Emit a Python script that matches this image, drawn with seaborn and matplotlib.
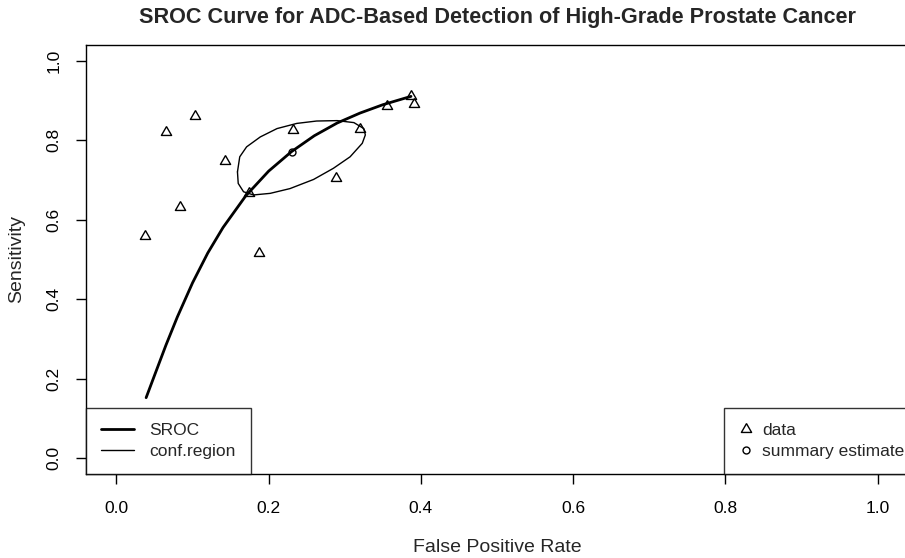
import matplotlib
matplotlib.use("Agg")
import matplotlib.pyplot as plt
import seaborn as sns
from matplotlib.lines import Line2D

# study-level estimates (false positive rate, sensitivity)
data_fpr = [0.103, 0.065, 0.143, 0.084, 0.038, 0.187, 0.174, 0.232, 0.288,
            0.320, 0.355, 0.387, 0.391]
data_sens = [0.860, 0.820, 0.748, 0.632, 0.558, 0.515, 0.668, 0.825, 0.705,
             0.828, 0.886, 0.911, 0.891]

summary_fpr = [0.231]
summary_sens = [0.771]

# SROC curve
sroc_fpr = [0.039, 0.050, 0.065, 0.080, 0.100, 0.120, 0.140, 0.170, 0.200,
            0.230, 0.260, 0.290, 0.320, 0.350, 0.387]
sroc_sens = [0.152, 0.208, 0.284, 0.355, 0.441, 0.516, 0.580, 0.660, 0.722,
             0.771, 0.811, 0.843, 0.868, 0.889, 0.910]

# confidence region outline
region_fpr = [0.159, 0.162, 0.171, 0.189, 0.211, 0.237, 0.263, 0.290, 0.312,
              0.325, 0.327, 0.323, 0.307, 0.285, 0.259, 0.228, 0.202, 0.180,
              0.167, 0.160, 0.159]
region_sens = [0.720, 0.758, 0.783, 0.808, 0.829, 0.842, 0.848, 0.849, 0.844,
               0.829, 0.813, 0.792, 0.758, 0.729, 0.701, 0.678, 0.666, 0.662,
               0.670, 0.691, 0.720]

ticks = [0.0, 0.2, 0.4, 0.6, 0.8, 1.0]
tick_labels = ["0.0", "0.2", "0.4", "0.6", "0.8", "1.0"]

sns.set_style("white")
plt.rcParams['font.family'] = ['Liberation Sans', 'DejaVu Sans']

W, H = 905, 558
fig = plt.figure(figsize=(W / 100, H / 100), dpi=100)
ax_l, ax_r, ax_t, ax_b = 86.0, 908.0, 44.7, 474.0
ax = fig.add_axes([ax_l / W, 1 - ax_b / H, (ax_r - ax_l) / W, (ax_b - ax_t) / H])

# R-style triangle, centred on its centroid
tri = [(0, 1.555), (1.347, -0.778), (-1.347, -0.778), (0, 1.555)]

sns.lineplot(x=sroc_fpr, y=sroc_sens, ax=ax, color="black", linewidth=2.0,
             sort=False, estimator=None)
sns.lineplot(x=region_fpr, y=region_sens, ax=ax, color="black", linewidth=1.0,
             sort=False, estimator=None)
ax.plot(data_fpr, data_sens, linestyle="none", marker=tri, markersize=8.5,
        markerfacecolor="none", markeredgecolor="black", markeredgewidth=1.0)
ax.plot(summary_fpr, summary_sens, linestyle="none", marker="o", markersize=5,
        markerfacecolor="none", markeredgecolor="black", markeredgewidth=1.0)

ax.set_xlim(-0.04, 1.04)
ax.set_ylim(-0.04, 1.04)
ax.set_xticks(ticks)
ax.set_xticklabels(tick_labels)
ax.set_yticks(ticks)
ax.set_yticklabels(tick_labels, rotation=90, va="center")
ax.tick_params(axis="both", direction="out", length=7.5, width=1.0,
               labelsize=12.5, colors="black", left=True, bottom=True)
ax.tick_params(axis="x", pad=12)
ax.tick_params(axis="y", pad=10)
for s in ax.spines.values():
    s.set_color("black")
    s.set_linewidth(1.0)
ax.grid(False)

ax.set_xlabel("False Positive Rate", fontsize=14)
ax.xaxis.label.set_va("center")
ax.xaxis.set_label_coords(0.5, (ax_b - 548) / (ax_b - ax_t))
ax.set_ylabel("Sensitivity", fontsize=14)
ax.yaxis.label.set_va("center")
ax.yaxis.set_label_coords((17 - ax_l) / (ax_r - ax_l), 0.5)

fig.text((ax_l + ax_r) / 2 / W, 1 - 18 / H,
         "SROC Curve for ADC-Based Detection of High-Grade Prostate Cancer",
         ha="center", va="center", fontsize=15.6, fontweight="bold")

leg1 = ax.legend(handles=[Line2D([], [], color="black", linewidth=2.0),
                          Line2D([], [], color="black", linewidth=1.0)],
                 labels=["SROC", "conf.region"], loc="lower left",
                 bbox_to_anchor=(0, 0), borderaxespad=0, fontsize=12.5,
                 frameon=True, fancybox=False, edgecolor="black",
                 handlelength=1.9, handletextpad=0.9, labelspacing=0.35,
                 borderpad=0.85)
leg1.get_frame().set_linewidth(1.0)
ax.add_artist(leg1)

leg2 = ax.legend(handles=[Line2D([], [], linestyle="none", marker=tri,
                                 markersize=8.5, markerfacecolor="none",
                                 markeredgecolor="black"),
                          Line2D([], [], linestyle="none", marker="o",
                                 markersize=5, markerfacecolor="none",
                                 markeredgecolor="black")],
                 labels=["data", "summary estimate"], loc="lower right",
                 bbox_to_anchor=(1.0134, 0), borderaxespad=0, fontsize=12.5,
                 frameon=True, fancybox=False, edgecolor="black",
                 handlelength=0.8, handletextpad=0.55, labelspacing=0.35,
                 borderpad=0.85)
leg2.get_frame().set_linewidth(1.0)

fig.savefig("out.png", dpi=100)
